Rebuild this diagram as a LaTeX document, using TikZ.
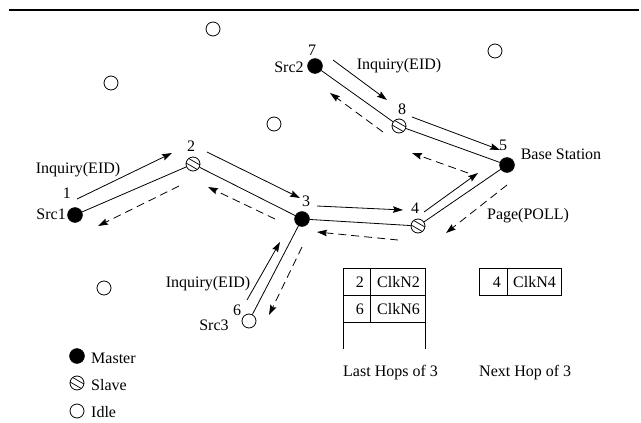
\documentclass[tikz,border=0pt]{standalone}
\usepackage{fontspec}
\setmainfont{Liberation Serif}
\usetikzlibrary{arrows.meta}
\begin{document}
\begin{tikzpicture}[x=1pt,y=-1pt,
  every node/.style={font=\fontsize{16}{19}\selectfont},
  master/.style={circle,fill=black,draw=black,minimum size=15pt,inner sep=0pt},
  idle/.style={circle,draw=black,fill=white,minimum size=14pt,inner sep=0pt,line width=0.8pt},
  slavenode/.style={idle,path picture={
     \draw[line width=0.7pt] (path picture bounding box.center) ++(60:2.6pt) ++(150:10pt) -- ++(-30:20pt);
     \draw[line width=0.7pt] (path picture bounding box.center) ++(240:2.6pt) ++(150:10pt) -- ++(-30:20pt);}},
  link/.style={line width=0.8pt},
  msg/.style={line width=0.8pt,-{Stealth[length=10pt,width=6.5pt,inset=1.5pt]}},
  reply/.style={msg,dash pattern=on 8pt off 5pt},
  lbl/.style={inner sep=0pt}]
\useasboundingbox (0,0) rectangle (641,423);

% top rule
\draw[line width=2.5pt] (9,10) -- (639,10);

% idle nodes
\node[idle] (i1) at (213,29) {};
\node[idle] (i2) at (111,83) {};
\node[idle] (i3) at (274,124) {};
\node[idle] (i4) at (495,51) {};
\node[idle] (i5) at (104,288) {};

% network nodes
\node[master] (n1) at (75,215) {};
\node[slavenode] (n2) at (193,164) {};
\node[master] (n3) at (302,219) {};
\node[slavenode] (n4) at (418,226) {};
\node[master] (n5) at (507,165) {};
\node[idle] (n6) at (249,321) {};
\node[master] (n7) at (315,66) {};
\node[slavenode] (n8) at (399,126) {};

% links
\draw[link] (n1) -- (n2);
\draw[link] (n2) -- (n3);
\draw[link] (n3) -- (n4);
\draw[link] (n4) -- (n5);
\draw[link] (n5) -- (n8);
\draw[link] (n8) -- (n7);
\draw[link] (n3) -- (n6);

% arrow end points
\coordinate (a12s) at (77,199);  \coordinate (a12e) at (172,153);
\coordinate (a23s) at (207,152); \coordinate (a23e) at (300,198);
\coordinate (a34s) at (317,206); \coordinate (a34e) at (403,210);
\coordinate (a45s) at (424,212); \coordinate (a45e) at (478,173);
\coordinate (a85s) at (412,117); \coordinate (a85e) at (500,150);
\coordinate (a78s) at (333,60);  \coordinate (a78e) at (387,100);
\coordinate (a63s) at (247,300); \coordinate (a63e) at (280,242);
\coordinate (d32s) at (275,219); \coordinate (d32e) at (208,187);
\coordinate (d21s) at (179,186); \coordinate (d21e) at (98,226);
\coordinate (d43s) at (398,240); \coordinate (d43e) at (317,232);
\coordinate (d54s) at (507,185); \coordinate (d54e) at (446,233);
\coordinate (d58s) at (468,173); \coordinate (d58e) at (412,153);
\coordinate (d87s) at (383,132); \coordinate (d87e) at (330,93);
\coordinate (d36s) at (302,247); \coordinate (d36e) at (269,315);

\draw[msg] (a12s) -- (a12e);
\draw[msg] (a23s) -- (a23e);
\draw[msg] (a34s) -- (a34e);
\draw[msg] (a45s) -- (a45e);
\draw[msg] (a85s) -- (a85e);
\draw[msg] (a78s) -- (a78e);
\draw[msg] (a63s) -- (a63e);
\draw[reply] (d32s) -- (d32e);
\draw[reply] (d21s) -- (d21e);
\draw[reply] (d43s) -- (d43e);
\draw[reply] (d54s) -- (d54e);
\draw[reply] (d58s) -- (d58e);
\draw[reply] (d87s) -- (d87e);
\draw[reply] (d36s) -- (d36e);

% labels
\node[lbl] (t1) at (67,193) {1};
\node[lbl,anchor=east] (ts1) at (66,214) {Src1};
\node[lbl] (t2) at (191,146) {2};
\node[lbl] (t3) at (306,201) {3};
\node[lbl] (t4) at (415,208) {4};
\node[lbl] (t5) at (503,145) {5};
\node[lbl] (t6) at (237,310) {6};
\node[lbl] (t7) at (312,50) {7};
\node[lbl] (t8) at (402,109) {8};
\node[lbl] (ts2) at (289,67) {Src2};
\node[lbl] (ts3) at (214,325) {Src3};
\node[lbl] (tbs) at (561,154) {Base Station};
\node[lbl] (tpg) at (528,216) {Page(POLL)};
\node[lbl] (tq1) at (78,170) {Inquiry(EID)};
\node[lbl] (tq2) at (399,66) {Inquiry(EID)};
\node[lbl] (tq3) at (208,284) {Inquiry(EID)};

% legend
\node[master] (lm) at (77,356) {};
\node[slavenode] (ls) at (77,383) {};
\node[idle] (li) at (77,411) {};
\node[lbl,anchor=west] (tlm) at (91,358) {Master};
\node[lbl,anchor=west] (tls) at (91,385) {Slave};
\node[lbl,anchor=west] (tli) at (91,412) {Idle};

% tables
\draw[link] (343,349) -- (343,268) -- (425,268) -- (425,349);
\draw[link] (343,295) -- (425,295);
\draw[link] (343,322) -- (425,322);
\draw[link] (370,268) -- (370,322);
\node[lbl,anchor=east] (c11) at (364,282) {2};
\node[lbl,anchor=west] (c12) at (377,282) {ClkN2};
\node[lbl,anchor=east] (c21) at (364,309) {6};
\node[lbl,anchor=west] (c22) at (377,309) {ClkN6};

\draw[link] (479,268) rectangle (561,295);
\draw[link] (507,268) -- (507,295);
\node[lbl,anchor=east] (d11) at (501,282) {4};
\node[lbl,anchor=west] (d12) at (513,282) {ClkN4};

\node[lbl,anchor=west] (tlh) at (343,373) {Last Hops of 3};
\node[lbl,anchor=west] (tnh) at (479,373) {Next Hop of 3};
\end{tikzpicture}
\end{document}
